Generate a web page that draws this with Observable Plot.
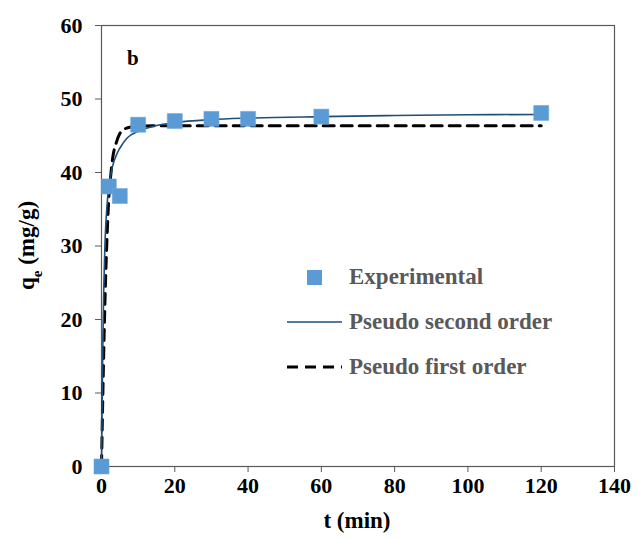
<!DOCTYPE html>
<html><head><meta charset="utf-8">
<script src="https://cdn.jsdelivr.net/npm/d3@7"></script>
<script src="https://cdn.jsdelivr.net/npm/@observablehq/plot@0.6"></script>
<style>body{margin:0;background:#fff}</style>
</head><body><div id="chart"></div>
<script>
// Experimental data
const expT = [0, 2, 5, 10, 20, 30, 40, 60, 120];
const expQ = [0, 38.1, 36.8, 46.5, 47.0, 47.3, 47.3, 47.6, 48.1];
// Pseudo second order curve
const psoT = [0, 0.25, 0.5, 1, 1.5, 2, 3, 4, 5, 7, 10, 15, 20, 30, 40, 60, 80, 100, 120];
const psoQ = [0, 12, 21, 31, 35.5, 38, 40.8, 42.3, 43.3, 44.7, 45.6, 46.4, 46.8, 47.2, 47.4, 47.6, 47.75, 47.85, 47.9];
// Pseudo first order curve
const pfoT = [0, 0.5, 1, 1.5, 2, 2.5, 3, 4, 5, 6, 8, 10, 15, 120];
const pfoQ = [0, 13, 23.5, 31, 36.5, 39.5, 41.8, 44, 45.3, 45.8, 46.2, 46.3, 46.35, 46.35];
const xTicks = [0, 20, 40, 60, 80, 100, 120, 140];
const yTicks = [0, 10, 20, 30, 40, 50, 60];
const legendLabels = ["Experimental", "Pseudo second order", "Pseudo first order"];

const expData = expT.map((t, i) => ({t, q: expQ[i]}));
const psoData = psoT.map((t, i) => ({t, q: psoQ[i]}));
const pfoData = pfoT.map((t, i) => ({t, q: pfoQ[i]}));

const font = "'Liberation Serif', 'Times New Roman', serif";
const axisColor = "#595959";

const plot = Plot.plot({
  width: 641, height: 540,
  marginLeft: 101, marginRight: 27, marginTop: 25, marginBottom: 74,
  style: {fontFamily: font, fontSize: "22px", fontWeight: "bold", color: "#000", background: "#fff"},
  x: {domain: [0, 140]},
  y: {domain: [0, 60]},
  marks: [
    Plot.frame({stroke: axisColor, strokeWidth: 1.2}),
    Plot.axisX({ticks: xTicks, tickSize: 6, tickPadding: 5, stroke: axisColor, label: null, fill: "#000"}),
    Plot.axisY({ticks: yTicks, tickSize: 6, tickPadding: 13, stroke: axisColor, label: null, fill: "#000"}),
    Plot.line(pfoData, {x: "t", y: "q", stroke: "#000", strokeWidth: 3, strokeDasharray: "11,7", curve: "monotone-x"}),
    Plot.line(psoData, {x: "t", y: "q", stroke: "#1F4E79", strokeWidth: 1.6, curve: "monotone-x"}),
    Plot.dot(expData, {x: "t", y: "q", symbol: "square", r: 8.5, fill: "#5B9BD5", stroke: "#6fa8dc", strokeWidth: 0.5})
  ]
});
document.getElementById("chart").appendChild(plot);

const svg = d3.select(plot);
function txt(sel, size, color, anchor) {
  return sel.style("font-family", font).style("font-size", size + "px").style("font-weight", "bold")
    .attr("fill", color).attr("text-anchor", anchor);
}
// y axis title
const yl = txt(svg.append("text").attr("transform", "translate(34,245.5) rotate(-90)"), 23, "#000", "middle");
yl.append("tspan").text("q");
yl.append("tspan").attr("baseline-shift", "sub").style("font-size", "15px").text("e");
yl.append("tspan").text(" (mg/g)");
// x axis title
txt(svg.append("text").attr("x", 357).attr("y", 528), 23, "#000", "middle").text("t (min)");
// panel label
txt(svg.append("text").attr("x", 127).attr("y", 65), 21, "#000", "start").text("b");
// legend
const lg = svg.append("g");
lg.append("rect").attr("x", 307).attr("y", 270).attr("width", 15).attr("height", 15).attr("fill", "#5B9BD5");
lg.append("line").attr("x1", 287).attr("x2", 342).attr("y1", 322).attr("y2", 322).attr("stroke", "#1F4E79").attr("stroke-width", 1.6);
lg.append("line").attr("x1", 287).attr("x2", 342).attr("y1", 367).attr("y2", 367).attr("stroke", "#000").attr("stroke-width", 3).attr("stroke-dasharray", "11,7");
const ly = [284, 329, 374];
legendLabels.forEach((s, i) => {
  txt(lg.append("text").attr("x", 349).attr("y", ly[i]), 23, "#595959", "start").text(s);
});
</script></body></html>
